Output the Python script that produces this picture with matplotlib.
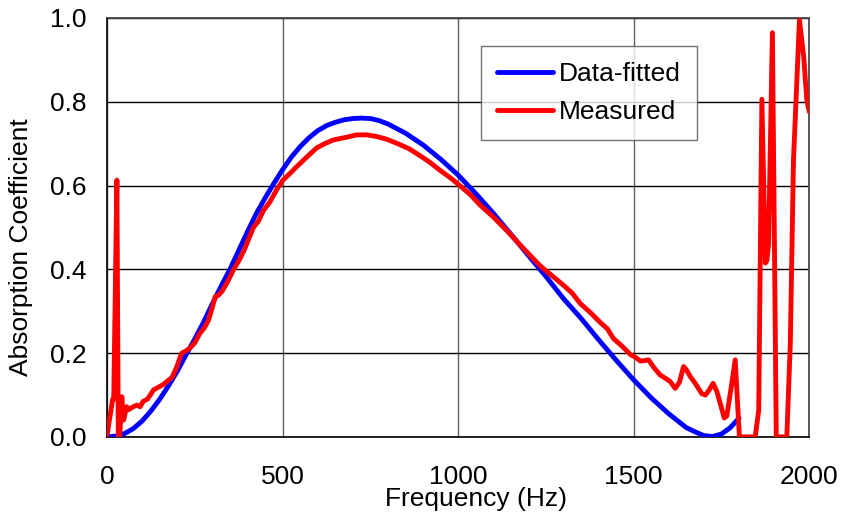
import matplotlib
matplotlib.use("Agg")
import matplotlib.pyplot as plt

plt.rcParams["font.family"] = ["Liberation Sans", "DejaVu Sans"]

# data-fitted curve
fit_hz = [0, 25, 50, 75, 100, 125, 150, 175, 200, 225, 250, 275, 300, 325,
          350, 375, 400, 425, 450, 475, 500, 525, 550, 575, 600, 625, 650,
          675, 700, 725, 750, 775, 800, 850, 900, 950, 1000, 1050, 1100,
          1150, 1200, 1250, 1300, 1350, 1400, 1450, 1500, 1550, 1600, 1650,
          1675, 1700, 1725, 1750, 1775, 1800]
fit_abs = [0.0, 0.002, 0.008, 0.02, 0.038, 0.062, 0.09, 0.122, 0.157, 0.196,
           0.234, 0.274, 0.318, 0.36, 0.40, 0.445, 0.49, 0.533, 0.57, 0.605,
           0.638, 0.668, 0.693, 0.714, 0.731, 0.743, 0.751, 0.757, 0.760,
           0.761, 0.760, 0.755, 0.747, 0.725, 0.697, 0.663, 0.625, 0.581,
           0.534, 0.484, 0.433, 0.383, 0.330, 0.283, 0.232, 0.183, 0.136,
           0.093, 0.055, 0.022, 0.012, 0.003, 0.001, 0.007, 0.022, 0.045]

# measured curve
meas_hz = [0, 16, 19, 28, 32, 36, 42, 47, 56, 62, 70, 85, 94, 103, 115, 123,
           132, 145, 160, 170, 185, 199, 208, 213, 224, 236, 250, 265, 277,
           289, 300, 308, 317, 327, 343, 360, 375, 390, 407, 417, 431, 445,
           463, 483, 500, 521, 540, 565, 597, 620, 645, 680, 711, 740, 768,
           795, 825, 860, 892, 920, 949, 980, 1006, 1035, 1063, 1100, 1139,
           1180, 1234, 1270, 1300, 1325, 1348, 1375, 1405, 1425, 1442, 1465,
           1490, 1505, 1519, 1530, 1542, 1558, 1575, 1590, 1604, 1618, 1630,
           1642, 1650, 1661, 1675, 1694, 1704, 1715, 1726, 1737, 1748, 1758,
           1765, 1778, 1789, 1801, 1846, 1856, 1865, 1875, 1879, 1884, 1895,
           1906, 1936, 1946, 1955, 1972, 1984, 1993, 2000]
meas_abs = [0.005, 0.09, 0.09, 0.613, 0.0, 0.0, 0.096, 0.04, 0.072, 0.065,
            0.07, 0.076, 0.072, 0.085, 0.09, 0.10, 0.112, 0.118, 0.125, 0.132,
            0.142, 0.168, 0.19, 0.20, 0.205, 0.212, 0.225, 0.248, 0.26,
            0.279, 0.31, 0.335, 0.338, 0.347, 0.37, 0.399, 0.42, 0.445, 0.48,
            0.50, 0.515, 0.54, 0.56, 0.590, 0.612, 0.629, 0.645, 0.665, 0.690,
            0.70, 0.709, 0.715, 0.721, 0.721, 0.717, 0.711, 0.701, 0.688,
            0.671, 0.655, 0.636, 0.617, 0.599, 0.578, 0.553, 0.525, 0.492,
            0.455, 0.408, 0.383, 0.362, 0.343, 0.318, 0.298, 0.273, 0.258,
            0.235, 0.218, 0.197, 0.19, 0.181, 0.182, 0.184, 0.165, 0.148,
            0.14, 0.132, 0.116, 0.13, 0.168, 0.16, 0.144, 0.128, 0.103, 0.10,
            0.112, 0.128, 0.108, 0.075, 0.045, 0.05, 0.12, 0.184, 0.0, 0.0,
            0.064, 0.806, 0.415, 0.42, 0.46, 0.965, 0.0, 0.0, 0.224, 0.661,
            0.995, 0.908, 0.804, 0.776]

fig = plt.figure(figsize=(8.43, 5.14), dpi=100)
ax = fig.add_axes([0.127, 0.150, 0.833, 0.815])

ax.plot(fit_hz, fit_abs, color="#0000ff", lw=3.5, label="Data-fitted",
        solid_capstyle="round", zorder=3)
ax.plot(meas_hz, meas_abs, color="#ff0000", lw=3.5, label="Measured",
        solid_capstyle="round", solid_joinstyle="round", zorder=4)

ax.set_xlim(0, 2000)
ax.set_ylim(0, 1.0)
ax.set_xticks([0, 500, 1000, 1500, 2000])
ax.set_yticks([0.0, 0.2, 0.4, 0.6, 0.8, 1.0])
ax.set_yticklabels(["0.0", "0.2", "0.4", "0.6", "0.8", "1.0"])
ax.tick_params(length=0, labelsize=19)
ax.tick_params(axis="y", pad=15)
ax.tick_params(axis="x", pad=20)
ax.grid(axis="y", color="black", lw=1)
ax.grid(axis="x", color="#606060", lw=1)
ax.set_axisbelow(True)
for side in ("top", "right"):
    ax.spines[side].set_color("#404040")
for side in ("left", "bottom"):
    ax.spines[side].set_color("black")
for s in ax.spines.values():
    s.set_linewidth(1.2)

ax.set_xlabel("Frequency (Hz)", fontsize=19)
ax.xaxis.set_label_coords(0.526, -0.12)
ax.set_ylabel("Absorption Coefficient", fontsize=19)
ax.yaxis.set_label_coords(-0.105, 0.453)

leg = ax.legend(loc="upper left", bbox_to_anchor=(0.533, 0.933), fontsize=19,
                frameon=True, fancybox=False, handlelength=2.1,
                borderaxespad=0, borderpad=0.6, labelspacing=0.55,
                handletextpad=0.25)
leg.get_frame().set_edgecolor("#505050")
leg.get_frame().set_linewidth(1.0)

fig.savefig("out.png", dpi=100)
plt.close(fig)
